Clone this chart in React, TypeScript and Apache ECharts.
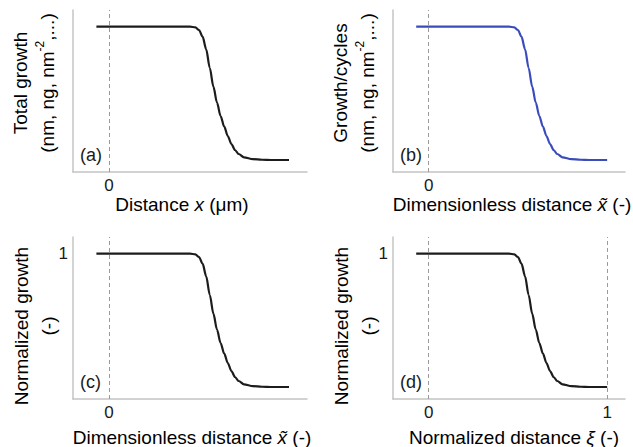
import React, { useEffect, useRef } from "react";
import * as echarts from "echarts";

// Profile sampled along the (normalized) distance axis
const distance = [-0.07, 0, 0.1, 0.2, 0.3, 0.4, 0.45, 0.48, 0.5, 0.52, 0.54, 0.56, 0.58, 0.6, 0.62, 0.64, 0.66, 0.68, 0.7, 0.72, 0.75, 0.8, 0.85, 0.9, 1.0];
const growth = [1, 1, 1, 1, 1, 1, 1, 0.995, 0.975, 0.925, 0.83, 0.69, 0.55, 0.43, 0.33, 0.25, 0.18, 0.12, 0.075, 0.045, 0.02, 0.006, 0.002, 0, 0];

const panelLetters = ["(a)", "(b)", "(c)", "(d)"];
const xTickValues = [[0], [0], [0], [0, 1]];
const yTickValues = [[], [], [1], [1]];
const dashedAt = [[0], [0], [0], [0, 1]];
const lineColors = ["#1c1c1c", "#3a4cbc", "#1c1c1c", "#1c1c1c"];

const FONT = "'Liberation Sans', Arial, sans-serif";
const TXT = "#1a1a1a";

const grids = [
  { left: 73, top: 10, width: 234, height: 162 },
  { left: 393, top: 10, width: 232, height: 162 },
  { left: 73, top: 237, width: 234, height: 162 },
  { left: 393, top: 237, width: 232, height: 162 },
];

const base = { fontFamily: FONT, fontSize: 19, color: TXT };

export default function App() {
  const ref = useRef<HTMLDivElement>(null);

  useEffect(() => {
    if (!ref.current) return;
    const chart = echarts.init(ref.current, undefined, { renderer: "svg" });
    const points = distance.map((d, i) => [d, growth[i]]);

    const xAxis = grids.map((_, i) => ({
      type: "value",
      gridIndex: i,
      min: -0.2,
      max: 1.1,
      axisLine: { show: true, onZero: false, lineStyle: { color: "#c4c4c4", width: 1.5 } },
      axisTick: { show: false },
      splitLine: { show: false },
      axisLabel: {
        customValues: xTickValues[i],
        margin: 5,
        fontFamily: FONT,
        fontSize: 17,
        color: TXT,
      },
    }));

    const yAxis = grids.map((_, i) => ({
      type: "value",
      gridIndex: i,
      min: -0.09,
      max: 1.125,
      axisLine: { show: true, onZero: false, lineStyle: { color: "#c4c4c4", width: 1.5 } },
      axisTick: { show: false },
      splitLine: { show: false },
      axisLabel: {
        show: yTickValues[i].length > 0,
        customValues: yTickValues[i],
        margin: 5,
        fontFamily: FONT,
        fontSize: 17,
        color: TXT,
      },
    }));

    const series = grids.map((_, i) => ({
      type: "line",
      xAxisIndex: i,
      yAxisIndex: i,
      data: points,
      smooth: 0.3,
      smoothMonotone: "x",
      showSymbol: false,
      lineStyle: { color: lineColors[i], width: 2.2 },
      markLine: {
        silent: true,
        symbol: ["none", "none"],
        label: { show: false },
        lineStyle: { color: "#9a9a9a", type: [4, 3], width: 1 },
        data: dashedAt[i].map((v) => ({ xAxis: v })),
      },
    }));

    const yTitle = (x: number, y: number, text: string) => ({
      type: "text",
      x,
      y,
      rotation: Math.PI / 2,
      style: {
        text,
        align: "center",
        verticalAlign: "middle",
        rich: {
          a: { ...base, lineHeight: 27 },
          s: { fontFamily: FONT, fontSize: 12, color: TXT, lineHeight: 27, verticalAlign: "top" },
        },
      },
    });

    const xTitle = (x: number, y: number, text: string) => ({
      type: "text",
      x,
      y,
      style: {
        text,
        align: "center",
        verticalAlign: "middle",
        rich: {
          a: { ...base },
          i: { ...base, fontStyle: "italic" },
        },
      },
    });

    const letters = grids.map((g, i) => ({
      type: "text",
      x: g.left + 7,
      y: g.top + 145,
      style: {
        text: panelLetters[i],
        fontFamily: FONT,
        fontSize: 18,
        fill: TXT,
        align: "left",
        verticalAlign: "middle",
      },
    }));

    chart.setOption({
      animation: false,
      backgroundColor: "#fff",
      grid: grids,
      xAxis,
      yAxis,
      series,
      graphic: [
        yTitle(34, 83, "{a|Total growth}\n{a|(nm, ng, nm}{s|-2}{a|,...)}"),
        yTitle(354, 83, "{a|Growth/cycles}\n{a|(nm, ng, nm}{s|-2}{a|,...)}"),
        yTitle(35, 326, "{a|Normalized growth}\n{a|(-)}"),
        yTitle(355, 326, "{a|Normalized growth}\n{a|(-)}"),
        xTitle(182, 204, "{a|Distance }{i|x}{a| (μm)}"),
        xTitle(512, 204, "{a|Dimensionless distance }{i|x\u0303}{a| (-)}"),
        xTitle(192, 437, "{a|Dimensionless distance }{i|x\u0303}{a| (-)}"),
        xTitle(514, 437, "{a|Normalized distance }{i|ξ}{a| (-)}"),
        ...letters,
      ],
    });

    return () => chart.dispose();
  }, []);

  return <div ref={ref} style={{ width: 633, height: 447, position: "fixed", left: 0, top: 0 }} />;
}
